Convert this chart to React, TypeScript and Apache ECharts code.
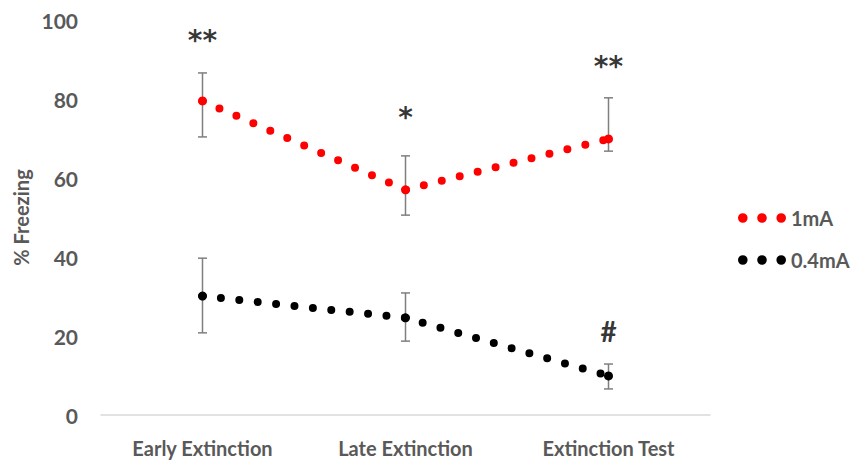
import React, { useEffect, useRef } from "react";
import * as echarts from "echarts";

const categories = ["Early Extinction", "Late Extinction", "Extinction Test"];
const yTicks = [0, 20, 40, 60, 80, 100];

const mean1mA = [79.5, 57.0, 69.9];
const errLow1mA = [70.4, 50.6, 66.8];
const errHigh1mA = [86.6, 65.6, 80.3];

const mean04mA = [30.1, 24.6, 9.9];
const errLow04mA = [20.8, 18.7, 6.6];
const errHigh04mA = [39.7, 30.9, 12.9];

const marks1mA = ["**", "*", "**"];
const marks1mAY = [94.8, 75.4, 88.2];
const marks04mA = ["", "", "#"];
const marks04mAY = [0, 0, 21.3];

const FONT = "Lato";
const GREY = "#595959";

const dotsIcon =
  "path://M0,5a5,5 0 1,0 10,0a5,5 0 1,0 -10,0Z M20,5a5,5 0 1,0 10,0a5,5 0 1,0 -10,0Z M40,5a5,5 0 1,0 10,0a5,5 0 1,0 -10,0Z";

function errorSeries(low: number[], high: number[]) {
  return {
    type: "custom",
    z: 1,
    silent: true,
    data: low.map((l, i) => [i, l, high[i]]),
    renderItem: (params: any, api: any) => {
      const x = api.value(0);
      const p1 = api.coord([x, api.value(2)]);
      const p2 = api.coord([x, api.value(1)]);
      const w = 4.5;
      const st = { stroke: "#7f7f7f", lineWidth: 1.5 };
      return {
        type: "group",
        children: [
          { type: "line", shape: { x1: p1[0], y1: p1[1], x2: p2[0], y2: p2[1] }, style: st },
          { type: "line", shape: { x1: p1[0] - w, y1: p1[1], x2: p1[0] + w, y2: p1[1] }, style: st },
          { type: "line", shape: { x1: p2[0] - w, y1: p2[1], x2: p2[0] + w, y2: p2[1] }, style: st },
        ],
      };
    },
  };
}

function markSeries(marks: string[], ys: number[], font: string, size: number) {
  return {
    type: "scatter",
    z: 5,
    silent: true,
    symbolSize: 1,
    itemStyle: { color: "transparent" },
    data: marks
      .map((m, i) => ({ value: [i, ys[i]], m }))
      .filter((d) => d.m !== ""),
    label: {
      show: true,
      position: "inside",
      formatter: (p: any) => p.data.m,
      color: "#000",
      fontFamily: font,
      fontWeight: "bold",
      fontSize: size,
    },
  };
}

function lineSeries(name: string, color: string, values: number[]) {
  return {
    name,
    type: "line",
    z: 3,
    data: values,
    symbol: "circle",
    symbolSize: 9,
    showSymbol: true,
    itemStyle: { color },
    lineStyle: { color, width: 8, type: [0, 18.5], cap: "round" },
  };
}

export default function App() {
  const ref = useRef<HTMLDivElement>(null);
  useEffect(() => {
    const chart = echarts.init(ref.current!, null, { renderer: "svg" });
    chart.setOption({
      animation: false,
      grid: { left: 101, right: 152, top: 20, bottom: 46 },
      legend: {
        orient: "vertical",
        left: 733,
        top: 203,
        itemGap: 22,
        itemWidth: 48,
        itemHeight: 10,
        icon: dotsIcon,
        data: ["1mA", "0.4mA"],
        textStyle: { fontFamily: FONT, fontWeight: "bold", fontSize: 20, color: GREY },
      },
      xAxis: {
        type: "category",
        data: categories,
        axisLine: { lineStyle: { color: "#d9d9d9", width: 1.5 } },
        axisTick: { show: false },
        axisLabel: { fontFamily: FONT, fontWeight: "bold", fontSize: 20, color: GREY, margin: 23 },
      },
      yAxis: {
        type: "value",
        min: yTicks[0],
        max: yTicks[yTicks.length - 1],
        interval: 20,
        name: "% Freezing",
        nameLocation: "middle",
        nameGap: 68,
        nameTextStyle: { fontFamily: FONT, fontWeight: "bold", fontSize: 20, color: GREY },
        axisLine: { show: false },
        axisTick: { show: false },
        splitLine: { show: false },
        axisLabel: { fontFamily: FONT, fontWeight: "bold", fontSize: 21, color: GREY, margin: 23 },
      },
      series: [
        errorSeries(errLow1mA, errHigh1mA),
        errorSeries(errLow04mA, errHigh04mA),
        lineSeries("1mA", "#ff0000", mean1mA),
        lineSeries("0.4mA", "#000000", mean04mA),
        markSeries(marks1mA, marks1mAY, "DejaVu Sans", 28),
        markSeries(marks04mA, marks04mAY, FONT, 28),
      ],
    });
    return () => chart.dispose();
  }, []);
  return <div ref={ref} style={{ width: 862, height: 461, position: "absolute", left: 0, top: 0 }} />;
}
